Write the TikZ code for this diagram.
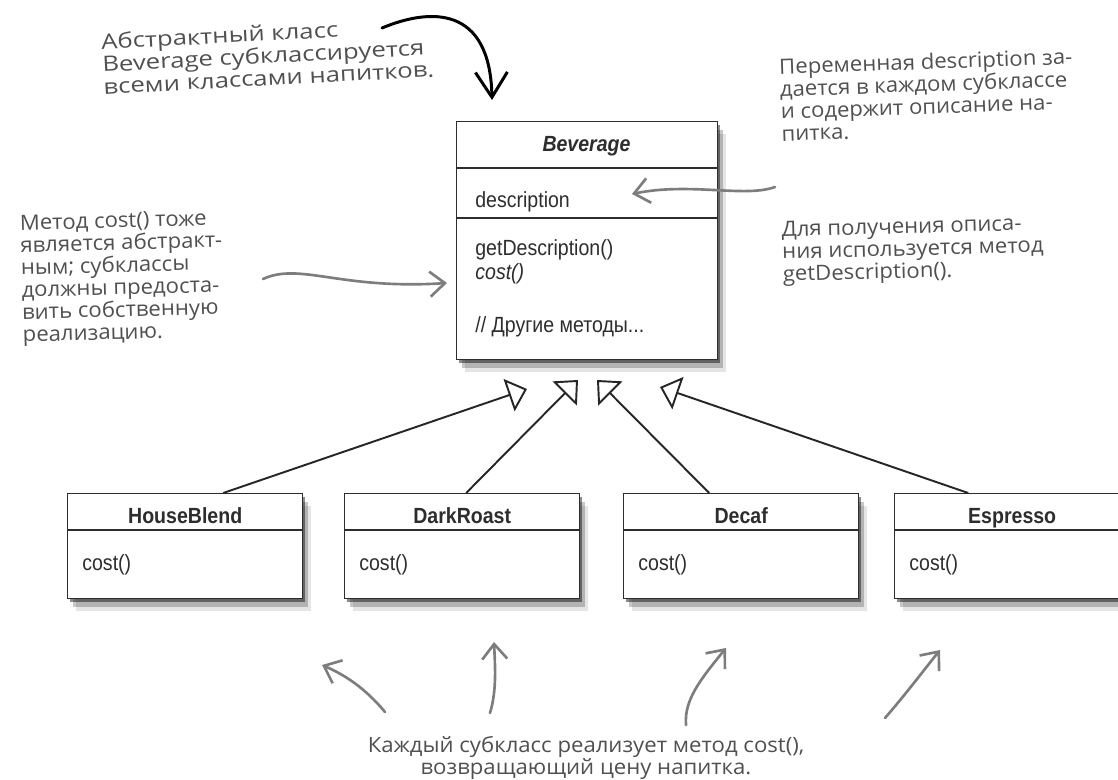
\documentclass[tikz,border=0pt]{standalone}
\usepackage{fontspec}
\newfontfamily\umlfont[FakeStretch=0.89]{Liberation Sans}
\newfontfamily\handfont[FakeStretch=1.05]{Open Sans}
\newfontfamily\handwide[FakeStretch=1.22]{Open Sans}
\usetikzlibrary{arrows.meta, positioning, calc, shadows}
\definecolor{inkc}{RGB}{45,45,45}
\definecolor{notec}{RGB}{80,80,80}
\definecolor{penc}{RGB}{125,125,125}
\tikzset{
  classbox/.style={draw=inkc, line width=0.8pt, fill=white, inner sep=0pt,
    anchor=north west, minimum width=4.7cm, minimum height=2.1cm,
    drop shadow={shadow xshift=.05cm, shadow yshift=-.07cm, opacity=.45, fill=black},
    drop shadow={shadow xshift=.11cm, shadow yshift=-.16cm, opacity=.22, fill=black},
    drop shadow={shadow xshift=.16cm, shadow yshift=-.25cm, opacity=.1, fill=black}},
  classname/.style={font=\umlfont\bfseries\fontsize{12.5}{14}\selectfont, text=inkc,
    inner sep=0pt, anchor=base},
  member/.style={font=\umlfont\fontsize{12.5}{14}\selectfont, text=inkc,
    anchor=base west, inner sep=0pt},
  rule/.style={draw=inkc, line width=0.8pt},
  isa/.style={line width=1.1pt, draw=black!85,
    -{Triangle[open, length=0.38cm, width=0.68cm]}},
  note/.style={font=\handfont\fontsize{12}{12.7}\selectfont, text=notec, align=left,
    inner sep=0pt, anchor=west},
  widenote/.style={note, font=\handwide\fontsize{12}{12.7}\selectfont},
  pen/.style={draw=penc, line width=1.5pt, line cap=round,
    -{Straight Barb[length=0.3cm, width=0.5cm]}},
}
\newcommand{\subclassbox}[3]{%
  \node[classbox] (#2) at (#1,493) {};
  \node[classname] (#2name) at ($(#2.north)+(0,30)$) {#3};
  \draw[rule] ($(#2.north west)+(0,37)$) -- ($(#2.north east)+(0,37)$);
  \node[member] (#2op) at ($(#2.north west)+(15,77)$) {cost()};}

\begin{document}
\begin{tikzpicture}[x=0.02cm, y=-0.02cm]
  \useasboundingbox (0,0) rectangle (1118,780);
  % abstract class
  \node[classbox, minimum width=5.22cm, minimum height=4.76cm] (bev) at (456,121) {};
  \node[classname] (bevname) at (586.5,152) {\itshape Beverage};
  \draw[rule] ($(bev.north west)+(0,47)$) -- ($(bev.north east)+(0,47)$);
  \draw[rule] ($(bev.north west)+(0,97)$) -- ($(bev.north east)+(0,97)$);
  \node[member] (bevattr) at (475,208) {description};
  \node[member] (bevget) at (475,256) {getDescription()};
  \node[member] (bevcost) at (475,279) {\itshape cost()};
  \node[member] (bevother) at (475,333) {// Другие методы...};
  % subclasses
  \subclassbox{67}{hb}{HouseBlend}
  \subclassbox{344}{dr}{DarkRoast}
  \subclassbox{623}{dc}{Decaf}
  \subclassbox{894}{es}{Espresso}
  \coordinate (g1) at (527,389);
  \coordinate (g2) at (578,380);
  \coordinate (g3) at (597,380);
  \coordinate (g4) at (660,387);
  \draw[isa] ($(hb.north)+(38,0)$) -- (g1);
  \draw[isa] ($(dr.north)+(4,0)$) -- (g2);
  \draw[isa] ($(dc.north)+(-32,0)$) -- (g3);
  \draw[isa] ($(es.north)+(-44,0)$) -- (g4);
  % notes
  \node[widenote, rotate=3] (absnote) at (102,64)
    {Абстрактный класс\\Beverage субклассируется\\всеми классами напитков.};
  \node[note, rotate=2] (descnote) at (780,100)
    {Переменная description за-\\дается в каждом субклассе\\и содержит описание на-\\питка.};
  \node[note, rotate=1.5] (getnote) at (782,254)
    {Для получения описа-\\ния используется метод\\getDescription().};
  \node[note, rotate=1.5] (costnote) at (21,281)
    {Метод cost() тоже\\является абстракт-\\ным; субклассы\\должны предоста-\\вить собственную\\реализацию.};
  \node[note, align=center, anchor=center] (implnote) at (586,758)
    {Каждый субкласс реализует метод cost(),\\возвращающий цену напитка.};
  % hand arrows
  \coordinate (absfrom) at (382,28);
  \coordinate (absto) at (492,100);
  \coordinate (descfrom) at (775,187);
  \coordinate (descto) at (632,194);
  \coordinate (costfrom) at (263,279);
  \coordinate (costto) at (447,283);
  \draw[pen, draw=black, line width=1.7pt, -{Straight Barb[length=0.5cm, width=0.64cm]}]
    (absfrom) .. controls (430,8) and (490,5) .. (absto);
  \draw[pen] (descfrom) .. controls (745,198) and (690,182) .. (descto);
  \draw[pen] (costfrom) .. controls (300,262) and (340,290) .. (costto);
  \coordinate (hbto) at (322,665);
  \coordinate (drto) at (494,642);
  \coordinate (dcto) at (726,648);
  \coordinate (esto) at (940,650);
  \draw[pen] (385,712) .. controls (365,688) and (345,675) .. (hbto);
  \draw[pen] (490,713) .. controls (497,690) and (495,665) .. (drto);
  \draw[pen] (686,725) .. controls (684,700) and (700,680) .. (dcto);
  \draw[pen] (885,718) .. controls (905,695) and (920,675) .. (esto);
\end{tikzpicture}
\end{document}
